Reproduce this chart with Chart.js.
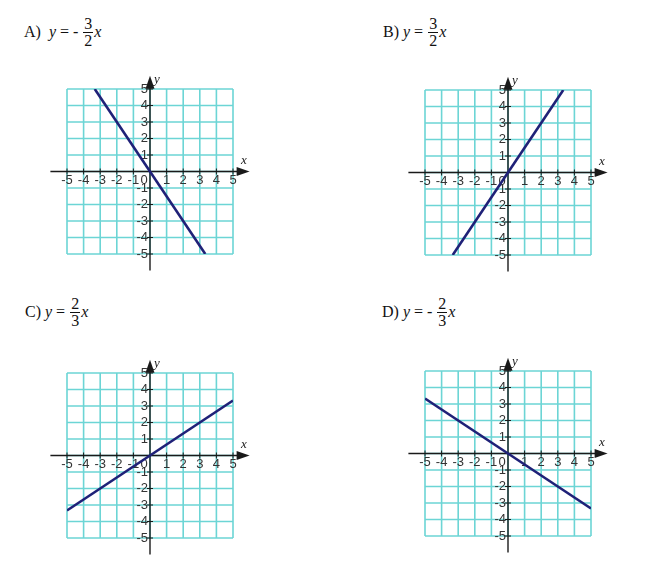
<!DOCTYPE html>
<html>
<head>
<meta charset="utf-8">
<script src="https://cdn.jsdelivr.net/npm/chart.js@4.4.1/dist/chart.umd.min.js"></script>
<style>
  body { margin: 0; background: #fff; width: 650px; height: 563px; position: relative; overflow: hidden; }
  .eq { position: absolute; font-family: "Liberation Serif", "Times New Roman", "DejaVu Serif", serif; font-size: 16px; color: #111; white-space: nowrap; display: flex; align-items: center; height: 36px; }
  .eq i { font-style: italic; }
  .frac { display: inline-flex; flex-direction: column; align-items: center; margin: 0 1px; line-height: 16px; }
  .frac span:first-child { border-bottom: 1px solid #111; padding: 0 1px; }
  canvas { position: absolute; }
</style>
</head>
<body>

<div class="eq" style="left:24px;top:14px">A)&nbsp;&nbsp;<i>y</i>&nbsp;=&nbsp;-&nbsp;<span class="frac"><span>3</span><span>2</span></span><i>x</i></div>
<div class="eq" style="left:383px;top:14px">B)&nbsp;<i>y</i>&nbsp;=&nbsp;<span class="frac"><span>3</span><span>2</span></span><i>x</i></div>
<div class="eq" style="left:25px;top:294px">C)&nbsp;<i>y</i>&nbsp;=&nbsp;<span class="frac"><span>2</span><span>3</span></span><i>x</i></div>
<div class="eq" style="left:382px;top:294px">D)&nbsp;<i>y</i>&nbsp;=&nbsp;-&nbsp;<span class="frac"><span>2</span><span>3</span></span><i>x</i></div>

<canvas id="graphA" width="246" height="225" style="left:27px;top:54px"></canvas>
<canvas id="graphB" width="246" height="225" style="left:385px;top:55px"></canvas>
<canvas id="graphC" width="246" height="225" style="left:27px;top:338px"></canvas>
<canvas id="graphD" width="246" height="225" style="left:385px;top:336px"></canvas>

<script>
// tick values shared by both axes
const tickValues = [-5, -4, -3, -2, -1, 0, 1, 2, 3, 4, 5];

// line endpoints
const lineAX = [-3.33, 3.33];
const lineAY = [5, -5];
const lineBX = [-3.33, 3.33];
const lineBY = [-5, 5];
const lineCX = [-5, 5];
const lineCY = [-3.33, 3.33];
const lineDX = [-5, 5];
const lineDY = [3.33, -3.33];

const GRID = '#6cd5d5';
const INK = '#1a1a1a';
const LINE = '#1f2178';

// cyan unit grid, black axes with arrows, tick marks and labels next to the axes
const axesPlugin = {
  id: 'axes',
  beforeDatasetsDraw(chart) {
    const { ctx, scales: { x, y } } = chart;
    const ox = x.getPixelForValue(0), oy = y.getPixelForValue(0);
    ctx.save();

    // grid
    ctx.strokeStyle = GRID;
    ctx.lineWidth = 1.6;
    ctx.beginPath();
    tickValues.forEach(v => {
      const px = x.getPixelForValue(v), py = y.getPixelForValue(v);
      ctx.moveTo(px, y.top); ctx.lineTo(px, y.bottom);
      ctx.moveTo(x.left, py); ctx.lineTo(x.right, py);
    });
    ctx.stroke();

    ctx.strokeStyle = INK;
    ctx.fillStyle = INK;
    ctx.lineWidth = 1.4;

    // x axis
    const xl = x.getPixelForValue(-6), xr = x.getPixelForValue(6);
    ctx.beginPath();
    ctx.moveTo(xl, oy);
    ctx.lineTo(xr - 10, oy);
    ctx.stroke();
    ctx.beginPath();
    ctx.moveTo(xr, oy);
    ctx.lineTo(xr - 13, oy - 4.5);
    ctx.lineTo(xr - 13, oy + 4.5);
    ctx.closePath();
    ctx.fill();

    // y axis
    const yb = y.getPixelForValue(-6), yt = y.getPixelForValue(5.8);
    ctx.beginPath();
    ctx.moveTo(ox, yb);
    ctx.lineTo(ox, yt + 10);
    ctx.stroke();
    ctx.beginPath();
    ctx.moveTo(ox, yt);
    ctx.lineTo(ox - 4.5, yt + 13);
    ctx.lineTo(ox + 4.5, yt + 13);
    ctx.closePath();
    ctx.fill();

    // tick marks
    ctx.lineWidth = 1;
    ctx.beginPath();
    tickValues.forEach(v => {
      if (v === 0) return;
      const px = x.getPixelForValue(v), py = y.getPixelForValue(v);
      ctx.moveTo(px, oy - 3); ctx.lineTo(px, oy + 3);
      ctx.moveTo(ox - 3, py); ctx.lineTo(ox + 3, py);
    });
    ctx.stroke();

    // tick labels
    ctx.font = '13px "Liberation Sans", Arial, sans-serif';
    ctx.fillStyle = '#333';
    tickValues.forEach(v => {
      if (v === 0) return;
      ctx.textAlign = 'center';
      ctx.textBaseline = 'top';
      ctx.fillText(String(v), x.getPixelForValue(v), oy + 2);
      ctx.textAlign = 'right';
      ctx.textBaseline = 'middle';
      ctx.fillText(String(v), ox - 2, y.getPixelForValue(v));
    });
    ctx.textAlign = 'center';
    ctx.textBaseline = 'top';
    ctx.fillText('0', ox - 6, oy + 2);

    ctx.font = 'italic 13px "Liberation Serif", "Times New Roman", serif';
    ctx.fillStyle = INK;
    ctx.textAlign = 'center';
    ctx.textBaseline = 'middle';
    ctx.fillText('x', x.getPixelForValue(5.65), oy - 11);
    ctx.fillText('y', ox + 7, y.getPixelForValue(5.55));
    ctx.restore();
  }
};

function makeAxis() {
  return {
    type: 'linear', min: -5, max: 5,
    ticks: { display: false },
    grid: { display: false, drawTicks: false },
    border: { display: false }
  };
}

function drawGraph(id, xs, ys) {
  const points = xs.map((v, i) => ({ x: v, y: ys[i] }));
  return new Chart(document.getElementById(id), {
    type: 'scatter',
    data: {
      datasets: [{
        data: points,
        showLine: true,
        borderColor: LINE,
        borderWidth: 2.6,
        pointRadius: 0,
        fill: false
      }]
    },
    options: {
      responsive: false,
      animation: false,
      layout: { padding: { left: 40, right: 40, top: 35, bottom: 25 } },
      plugins: { legend: { display: false }, tooltip: { enabled: false } },
      scales: { x: makeAxis(), y: makeAxis() }
    },
    plugins: [axesPlugin]
  });
}

drawGraph('graphA', lineAX, lineAY);
drawGraph('graphB', lineBX, lineBY);
drawGraph('graphC', lineCX, lineCY);
drawGraph('graphD', lineDX, lineDY);
</script>
</body>
</html>
